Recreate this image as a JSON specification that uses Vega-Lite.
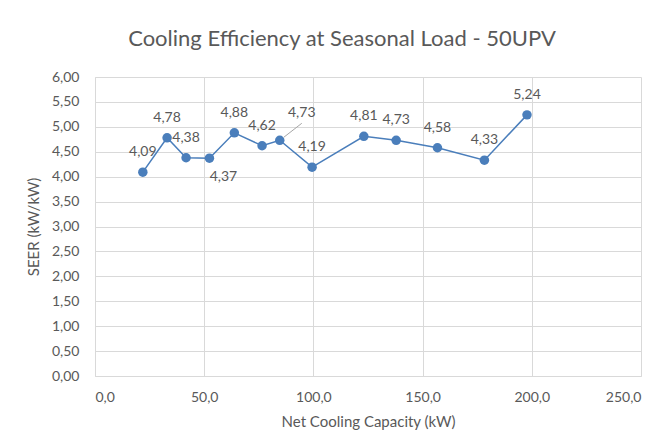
{
  "$schema": "https://vega.github.io/schema/vega-lite/v6.json",
  "width": 546,
  "height": 299,
  "padding": {"left": 26, "top": 28, "right": 30, "bottom": 10},
  "background": "white",
  "config": {
    "locale": {"number": {"decimal": ",", "thousands": ".", "grouping": [3], "currency": ["", ""]}},
    "font": "Lato",
    "view": {"stroke": null},
    "axis": {"labelColor": "#595959", "titleColor": "#595959", "labelFontSize": 14, "titleFontSize": 15, "titleFontWeight": "normal", "gridColor": "#d9d9d9", "domainColor": "#d9d9d9", "ticks": false, "labelFont": "Lato", "titleFont": "Lato"}
  },
  "title": {"text": "Cooling Efficiency at Seasonal Load - 50UPV", "fontSize": 22, "fontWeight": "normal", "color": "#595959", "font": "Lato", "anchor": "middle", "dx": -26, "offset": 19},
  "data": {"values": [
    {"cap": 21.9, "seer": 4.09},
    {"cap": 33.0, "seer": 4.78},
    {"cap": 41.7, "seer": 4.38},
    {"cap": 52.4, "seer": 4.37},
    {"cap": 63.8, "seer": 4.88},
    {"cap": 76.5, "seer": 4.62},
    {"cap": 84.6, "seer": 4.73},
    {"cap": 99.4, "seer": 4.19},
    {"cap": 123.1, "seer": 4.81},
    {"cap": 137.9, "seer": 4.73},
    {"cap": 156.8, "seer": 4.58},
    {"cap": 178.3, "seer": 4.33},
    {"cap": 197.8, "seer": 5.24}
  ]},
  "encoding": {
    "x": {"field": "cap", "type": "quantitative", "scale": {"domain": [0, 250], "nice": false},
      "axis": {"values": [0, 50, 100, 150, 200, 250], "format": ".1f", "title": "Net Cooling Capacity (kW)", "labelPadding": 14, "titlePadding": 10}},
    "y": {"field": "seer", "type": "quantitative", "scale": {"domain": [0, 6], "nice": false},
      "axis": {"values": [0, 0.5, 1, 1.5, 2, 2.5, 3, 3.5, 4, 4.5, 5, 5.5, 6], "format": ".2f", "title": "SEER (kW/kW)", "labelPadding": 16, "titlePadding": 10}}
  },
  "layer": [
    {"mark": {"type": "line", "color": "#4a7ebb", "strokeWidth": 1.5}},
    {"mark": {"type": "point", "filled": true, "opacity": 1, "color": "#4a7ebb", "size": 90}},
    {"transform": [{"filter": "!(datum.cap == 52.4 || datum.cap == 84.6)"}],
      "mark": {"type": "text", "dy": -20, "fontSize": 14, "color": "#595959", "baseline": "middle"},
      "encoding": {"text": {"field": "seer", "type": "quantitative", "format": ".2f"}}},
    {"transform": [{"filter": "datum.cap == 52.4"}],
      "mark": {"type": "text", "dy": 19, "dx": 14, "fontSize": 14, "color": "#595959", "baseline": "middle"},
      "encoding": {"text": {"field": "seer", "type": "quantitative", "format": ".2f"}}},
    {"transform": [{"filter": "datum.cap == 84.6"}],
      "mark": {"type": "text", "dy": -27, "dx": 22, "fontSize": 14, "color": "#595959", "baseline": "middle"},
      "encoding": {"text": {"field": "seer", "type": "quantitative", "format": ".2f"}}},
    {"transform": [{"filter": "datum.cap == 84.6"}],
      "mark": {"type": "rule", "color": "#a6a6a6", "strokeWidth": 1, "xOffset": 4, "yOffset": -3, "x2Offset": 22, "y2Offset": -17},
      "encoding": {"x2": {"field": "cap"}, "y2": {"field": "seer"}}}
  ]
}
